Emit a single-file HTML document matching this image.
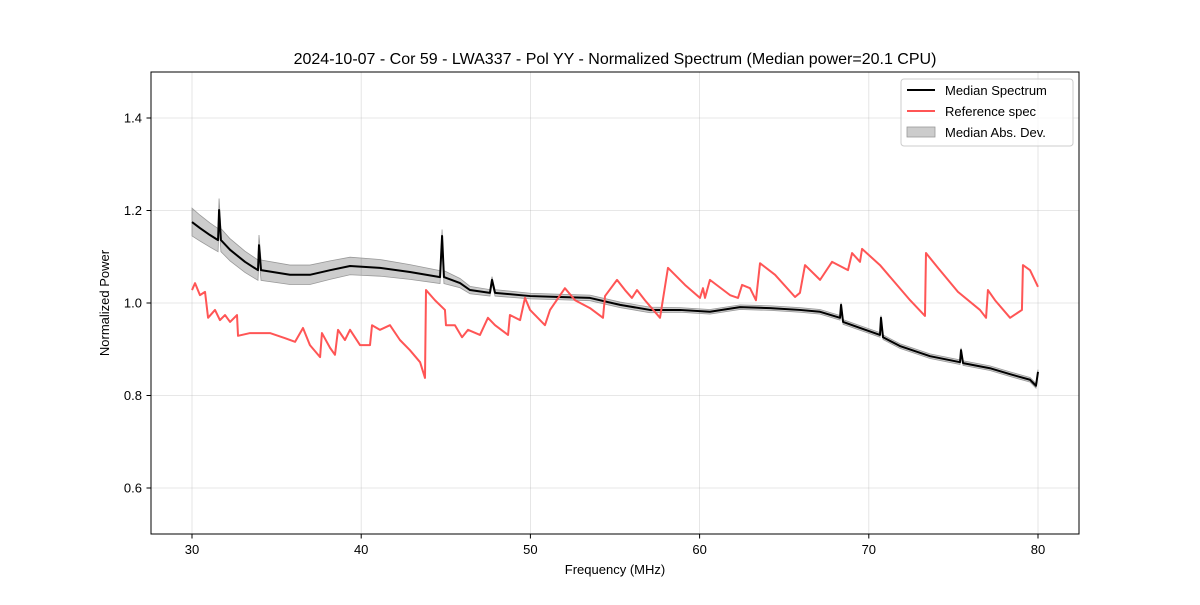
<!DOCTYPE html>
<html><head><meta charset="utf-8"><style>
body{margin:0;background:#fff;}
svg text{font-family:"Liberation Sans","DejaVu Sans",sans-serif;fill:#000;}
</style></head><body>
<svg width="1200" height="600">
<rect width="1200" height="600" fill="#fff"/>
<g id="grid"></g>
<g id="plot"></g>
<rect x="151" y="72" width="928" height="462" fill="none" stroke="#000" stroke-width="1"/>
<g id="ticks"></g>
<text x="615" y="64" font-size="16" text-anchor="middle">2024-10-07 - Cor 59 - LWA337 - Pol YY - Normalized Spectrum (Median power=20.1 CPU)</text>
<text x="615" y="574" font-size="13" text-anchor="middle">Frequency (MHz)</text>
<text x="109" y="303" font-size="13" text-anchor="middle" transform="rotate(-90 109 303)">Normalized Power</text>
<g>
<rect x="901" y="79" width="172" height="67" rx="3" fill="#fff" fill-opacity="0.8" stroke="#ccc"/>
<line x1="907" y1="90" x2="935" y2="90" stroke="#000" stroke-width="2"/>
<text x="945" y="95" font-size="13">Median Spectrum</text>
<line x1="907" y1="111" x2="935" y2="111" stroke="#ff5555" stroke-width="2"/>
<text x="945" y="116" font-size="13">Reference spec</text>
<rect x="907" y="127" width="28" height="10" fill="#000" fill-opacity="0.2" stroke="#999" stroke-width="0.8"/>
<text x="945" y="137" font-size="13">Median Abs. Dev.</text>
</g>
</svg>
<script>
const xTicks=[30,40,50,60,70,80];
const yTicks=[0.6,0.8,1.0,1.2,1.4];
const yTickLabels=["0.6","0.8","1.0","1.2","1.4"];
const refFreq=[30.0,30.18,30.47,30.77,30.95,31.36,31.65,31.95,32.25,32.66,32.72,33.43,34.61,35.50,36.09,36.56,36.97,37.57,37.68,38.16,38.45,38.63,39.04,39.34,39.93,40.52,40.64,41.11,41.70,42.29,42.88,43.48,43.77,43.83,44.36,44.95,45.01,45.54,45.96,46.31,47.02,47.49,47.91,48.68,48.79,49.39,49.68,49.98,50.86,51.16,52.04,52.64,53.52,54.29,54.41,55.12,55.59,56.00,56.30,56.77,57.66,58.13,59.14,60.02,60.20,60.32,60.61,61.80,62.27,62.51,62.98,63.33,63.57,64.46,65.64,65.93,66.23,67.12,67.83,68.77,69.01,69.48,69.60,70.66,72.44,73.32,73.38,74.09,75.27,76.57,76.93,77.04,77.46,78.35,79.05,79.11,79.53,80.0];
const refPower=[1.028,1.043,1.017,1.024,0.968,0.985,0.963,0.974,0.959,0.974,0.929,0.935,0.935,0.924,0.916,0.946,0.909,0.883,0.935,0.903,0.888,0.942,0.920,0.942,0.909,0.909,0.952,0.942,0.952,0.920,0.898,0.872,0.838,1.028,1.006,0.985,0.952,0.952,0.926,0.942,0.931,0.968,0.952,0.931,0.974,0.963,1.011,0.985,0.952,0.985,1.032,1.006,0.989,0.968,1.015,1.050,1.028,1.011,1.028,1.006,0.968,1.076,1.039,1.011,1.032,1.011,1.050,1.017,1.011,1.039,1.032,1.006,1.086,1.061,1.013,1.022,1.082,1.050,1.089,1.071,1.108,1.089,1.117,1.082,1.006,0.972,1.108,1.076,1.024,0.985,0.968,1.028,1.006,0.968,0.985,1.082,1.071,1.035];
const medFreq=[30.0,30.47,31.06,31.54,31.60,31.71,32.25,33.13,33.90,33.96,34.08,35.79,36.97,38.16,39.34,41.11,42.88,44.66,44.78,44.89,45.84,46.43,47.61,47.73,47.91,49.98,51.75,53.52,55.30,57.07,58.84,60.61,62.39,64.16,65.93,67.12,68.30,68.36,68.48,69.48,70.66,70.72,70.84,71.84,73.62,75.39,75.45,75.57,77.16,78.35,79.53,79.88,80.0];
const medPower=[1.175,1.162,1.147,1.136,1.201,1.136,1.115,1.089,1.071,1.125,1.071,1.061,1.061,1.071,1.080,1.076,1.067,1.056,1.145,1.056,1.043,1.028,1.022,1.050,1.022,1.015,1.013,1.011,0.996,0.985,0.985,0.981,0.991,0.989,0.985,0.981,0.968,0.996,0.959,0.946,0.931,0.968,0.926,0.907,0.885,0.872,0.898,0.870,0.859,0.846,0.834,0.821,0.851];
const medDev=[0.030,0.028,0.026,0.025,0.025,0.025,0.024,0.023,0.022,0.022,0.022,0.021,0.021,0.020,0.019,0.018,0.016,0.014,0.014,0.014,0.010,0.008,0.007,0.007,0.007,0.006,0.006,0.006,0.006,0.006,0.005,0.005,0.005,0.005,0.005,0.005,0.005,0.005,0.005,0.005,0.005,0.005,0.005,0.005,0.005,0.005,0.005,0.005,0.005,0.005,0.005,0.005,0.005];

const NS="http://www.w3.org/2000/svg";
const X=f=>192+(f-30)*16.92;
const Y=v=>303-(v-1.0)*462.5;
function mk(tag,attrs,parent){const e=document.createElementNS(NS,tag);for(const k in attrs)e.setAttribute(k,attrs[k]);parent.appendChild(e);return e;}
const grid=document.getElementById('grid'),plot=document.getElementById('plot'),ticks=document.getElementById('ticks');
xTicks.forEach(t=>{
  const g=mk('line',{x1:X(t),x2:X(t),y1:72,y2:534,stroke:'#b0b0b0','stroke-width':0.8,'stroke-opacity':0.4},grid);
  
  
  const tk=mk('line',{x1:X(t),x2:X(t),y1:534,y2:538.5,stroke:'#000'},ticks);
  
  
  const tx=mk('text',{x:X(t),y:554,'font-size':13,'text-anchor':'middle'},ticks);tx.textContent=t;
  
  
});
yTicks.forEach((t,i)=>{
  const g=mk('line',{x1:151,x2:1079,y1:Y(t),y2:Y(t),stroke:'#b0b0b0','stroke-width':0.8,'stroke-opacity':0.4},grid);
  
  
  const tk=mk('line',{x1:146.5,x2:151,y1:Y(t),y2:Y(t),stroke:'#000'},ticks);
  
  
  const tx=mk('text',{x:142,y:Y(t)+4.5,'font-size':13,'text-anchor':'end'},ticks);tx.textContent=yTickLabels[i];
  
  
});
let up=medFreq.map((f,i)=>X(f)+','+Y(medPower[i]+medDev[i]));
let dn=medFreq.map((f,i)=>X(f)+','+Y(medPower[i]-medDev[i])).reverse();
const band=mk('polygon',{points:up.concat(dn).join(' '),fill:'#000','fill-opacity':0.2,stroke:'#999','stroke-width':0.8},plot);


const med=mk('polyline',{points:medFreq.map((f,i)=>X(f)+','+Y(medPower[i])).join(' '),fill:'none',stroke:'#000','stroke-width':2,'stroke-linejoin':'round'},plot);


const ref=mk('polyline',{points:refFreq.map((f,i)=>X(f)+','+Y(refPower[i])).join(' '),fill:'none',stroke:'#ff5555','stroke-width':2,'stroke-linejoin':'round'},plot);


</script>
</body></html>
